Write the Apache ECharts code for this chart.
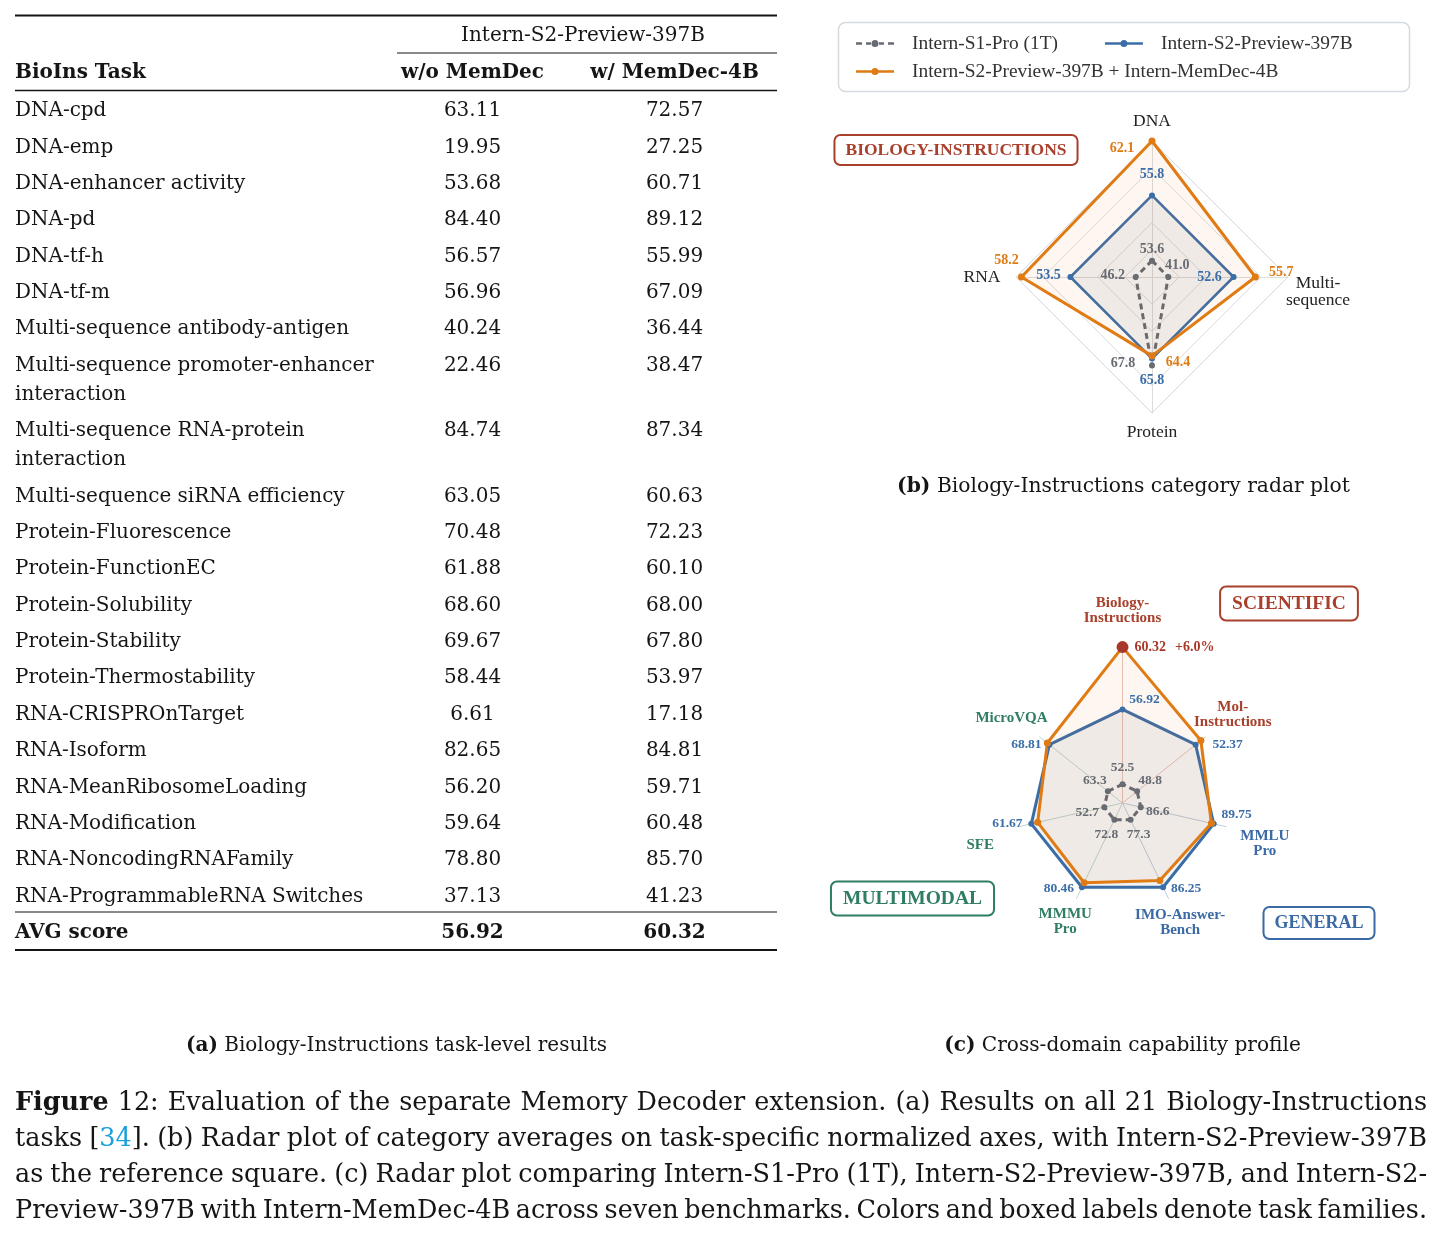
<!DOCTYPE html>
<html>
<head>
<meta charset="utf-8">
<script src="https://cdn.jsdelivr.net/npm/echarts@6.0.0/dist/echarts.min.js"></script>
<style>
html,body{margin:0;padding:0;background:#fff;}
#chart{width:1447px;height:1241px;}
</style>
</head>
<body>
<div id="chart"></div>
<script>
// ================= DATA =================
// (a) table
const tableHeaderModel = 'Intern-S2-Preview-397B';
const tableColumns = ['BioIns Task', 'w/o MemDec', 'w/ MemDec-4B'];
const taskNames = [
  'DNA-cpd', 'DNA-emp', 'DNA-enhancer activity', 'DNA-pd', 'DNA-tf-h', 'DNA-tf-m',
  'Multi-sequence antibody-antigen', 'Multi-sequence promoter-enhancer\ninteraction',
  'Multi-sequence RNA-protein\ninteraction', 'Multi-sequence siRNA efficiency',
  'Protein-Fluorescence', 'Protein-FunctionEC', 'Protein-Solubility', 'Protein-Stability',
  'Protein-Thermostability', 'RNA-CRISPROnTarget', 'RNA-Isoform', 'RNA-MeanRibosomeLoading',
  'RNA-Modification', 'RNA-NoncodingRNAFamily', 'RNA-ProgrammableRNA Switches'
];
const scoresWithoutMemDec = [63.11, 19.95, 53.68, 84.40, 56.57, 56.96, 40.24, 22.46, 84.74, 63.05,
  70.48, 61.88, 68.60, 69.67, 58.44, 6.61, 82.65, 56.20, 59.64, 78.80, 37.13];
const scoresWithMemDec = [72.57, 27.25, 60.71, 89.12, 55.99, 67.09, 36.44, 38.47, 87.34, 60.63,
  72.23, 60.10, 68.00, 67.80, 53.97, 17.18, 84.81, 59.71, 60.48, 85.70, 41.23];
const avgRowLabel = 'AVG score';
const avgWithoutMemDec = 56.92;
const avgWithMemDec = 60.32;

// models
const modelNames = ['Intern-S1-Pro (1T)', 'Intern-S2-Preview-397B', 'Intern-S2-Preview-397B + Intern-MemDec-4B'];

// (b) Biology-Instructions category radar (indicator order counter-clockwise from top)
const bioCategories = ['DNA', 'RNA', 'Protein', 'Multi-\nsequence'];
const bioS1Scores = [53.6, 46.2, 67.8, 41.0];
const bioS2Scores = [55.8, 53.5, 65.8, 52.6];
const bioMemScores = [62.1, 58.2, 64.4, 55.7];
// task-specific normalized radii (Intern-S2 = reference square)
const bioS1Norm = [0.12, 0.12, 0.65, 0.12];
const bioS2Norm = [0.60, 0.60, 0.60, 0.60];
const bioMemNorm = [1.00, 0.96, 0.58, 0.76];
const bioTag = 'BIOLOGY-INSTRUCTIONS';

// (c) cross-domain radar (indicator order counter-clockwise from top)
const crossCategories = ['Biology-\nInstructions', 'MicroVQA', 'SFE', 'MMMU\nPro', 'IMO-Answer-\nBench', 'MMLU\nPro', 'Mol-\nInstructions'];
const crossFamilies = ['sci', 'multi', 'multi', 'multi', 'gen', 'gen', 'sci'];
const crossS1Scores = [52.5, 63.3, 52.7, 72.8, 77.3, 86.6, 48.8];
const crossS2Scores = [56.92, 68.81, 61.67, 80.46, 86.25, 89.75, 52.37];
const crossMemHeadline = 60.32;
const crossMemGain = '+6.0%';
const crossS1Norm = [0.12, 0.12, 0.12, 0.12, 0.12, 0.12, 0.12];
const crossS2Norm = [0.60, 0.60, 0.60, 0.60, 0.60, 0.60, 0.60];
const crossMemNorm = [1.00, 0.617, 0.558, 0.568, 0.552, 0.585, 0.643];
const familyTags = ['SCIENTIFIC', 'MULTIMODAL', 'GENERAL'];

// captions
const captionA = ['(a)', ' Biology-Instructions task-level results'];
const captionB = ['(b)', ' Biology-Instructions category radar plot'];
const captionC = ['(c)', ' Cross-domain capability profile'];
const figureCaptionLines = [
  'Figure 12: Evaluation of the separate Memory Decoder extension. (a) Results on all 21 Biology-Instructions',
  'tasks [34]. (b) Radar plot of category averages on task-specific normalized axes, with Intern-S2-Preview-397B',
  'as the reference square. (c) Radar plot comparing Intern-S1-Pro (1T), Intern-S2-Preview-397B, and Intern-S2-',
  'Preview-397B with Intern-MemDec-4B across seven benchmarks. Colors and boxed labels denote task families.'
];

// ================= STYLE / LAYOUT =================
const INK = '#151515';
const C_ORANGE = '#e07b14';
const C_BLUE = '#3b6ea8';
const C_GRAY = '#676b72';
const C_RED = '#a8402c';
const C_GREEN = '#2f7d64';
const C_GEN = '#3a6aa5';
const famColor = { sci: C_RED, gen: C_GEN, multi: C_GREEN };
const famSpoke = { sci: '#eac3b8', gen: '#bfcde0', multi: '#bfd8cc' };
const SERIF = '"DejaVu Serif", serif';
const TIMES = '"Liberation Serif", "Times New Roman", serif';

// label offsets (dx, dy) relative to vertices, in indicator order
const bioOffS1 = [[0, -11], [-23, -2], [-29, -2], [9, -12]];
const bioOffS2 = [[0, -21], [-22, -2], [0, 22], [-24, 0]];
const bioOffMem = [[-30, 7], [-15, -17], [26, 7], [26, -5]];
const crossOffS1 = [[0, -17], [-13, -11], [-17, 5], [-8, 15], [8, 15], [17, 4], [13, -11]];
const crossOffS2 = [[22, -10], [-23, 0], [-24, 0], [-23, 1], [23, 1], [23, -9], [32, 0]];
const bioNameGap = [20, 34, 19, 30];
const bioNameShift = [0, 0, 0, 30];
const crossNameGap = [86, 36, 40, 26, 27, 40, 35];
const crossNameShift = [0, 8, 20, 0, 0, 16, 0];

// ================= HELPERS =================
const g = [];
const mctx = document.createElement('canvas').getContext('2d');
function fnt(size, bold, fam) { return (bold ? 'bold ' : '') + size.toFixed(2) + 'px ' + (fam || SERIF); }
function tw(text, f) { mctx.font = f; return mctx.measureText(text).width; }
function fitSize(text, bold, target) { return 100 * target / tw(text, fnt(100, bold)); }
function addText(x, y, text, f, extra) {
  g.push({ type: 'text', x: x, y: y, silent: true, z: 10,
    style: Object.assign({ text: text, font: f, fill: INK, align: 'left', verticalAlign: 'middle' }, extra || {}) });
}
function addRule(x1, x2, y, w) {
  g.push({ type: 'line', silent: true, z: 10, shape: { x1: x1, y1: y, x2: x2, y2: y }, style: { stroke: INK, lineWidth: w } });
}
function addRuns(parts, x, y, align, size) {
  let total = 0;
  parts.forEach(p => { total += tw(p.t, fnt(size, p.b)); });
  let cx = align === 'center' ? x - total / 2 : x;
  parts.forEach(p => {
    const f = fnt(size, p.b);
    addText(cx, y, p.t, f, { fill: p.c || INK });
    cx += tw(p.t, f);
  });
}

// ================= (a) TABLE =================
const tfs = fitSize('Multi-sequence promoter-enhancer', false, 359);
const colX = [15, 472.5, 674.5];
const TY = 2; // baseline nudge
addRule(15, 777, 15.5, 2);
addText(583, 34 + TY, tableHeaderModel, fnt(tfs, false), { align: 'center' });
addRule(397, 777, 53, 1);
addText(colX[0], 71 + TY, tableColumns[0], fnt(tfs, true));
addText(colX[1], 71 + TY, tableColumns[1], fnt(tfs, true), { align: 'center' });
addText(colX[2], 71 + TY, tableColumns[2], fnt(tfs, true), { align: 'center' });
addRule(15, 777, 90.5, 1.3);
let rowY = 109;
taskNames.forEach((t, i) => {
  addText(colX[0], rowY + TY - 14.6, t, fnt(tfs, false), { verticalAlign: 'top', lineHeight: 29.2 });
  addText(colX[1], rowY + TY, scoresWithoutMemDec[i].toFixed(2), fnt(tfs, false), { align: 'center' });
  addText(colX[2], rowY + TY, scoresWithMemDec[i].toFixed(2), fnt(tfs, false), { align: 'center' });
  rowY += 36.35 + (t.split('\n').length - 1) * 29.2;
});
addRule(15, 777, 912, 1);
addText(colX[0], 931 + TY, avgRowLabel, fnt(tfs, true));
addText(colX[1], 931 + TY, avgWithoutMemDec.toFixed(2), fnt(tfs, true), { align: 'center' });
addText(colX[2], 931 + TY, avgWithMemDec.toFixed(2), fnt(tfs, true), { align: 'center' });
addRule(15, 777, 950, 2);

// sub captions
function subCaption(parts, cx, cy, target) {
  const runs = [{ t: parts[0], b: true }, { t: parts[1], b: false }];
  let w100 = 0; runs.forEach(p => { w100 += tw(p.t, fnt(100, p.b)); });
  addRuns(runs, cx, cy, 'center', 100 * target / w100);
}
subCaption(captionA, 396.5, 1045.5, 421);
subCaption(captionB, 1123.5, 486.5, 453);
subCaption(captionC, 1122.5, 1045.5, 357);

// figure caption, justified
(function () {
  const L = 15, R = 1427;
  function wordParts(w) {
    if (w === 'Figure') return [{ t: w, b: true }];
    const m = w.match(/^(.*\[)(\d+)(\].*)$/);
    if (m) return [{ t: m[1] }, { t: m[2], c: '#1ba0dc' }, { t: m[3] }];
    return [{ t: w }];
  }
  const lines = figureCaptionLines.map(s => s.split(' ').map(wordParts));
  let fs = 26;
  lines.forEach(words => {
    let w100 = 0;
    words.forEach(ps => ps.forEach(p => { w100 += tw(p.t, fnt(100, p.b)); }));
    const cand = (R - L) / (w100 / 100 + (words.length - 1) * 0.22);
    if (cand < fs) fs = cand;
  });
  lines.forEach((words, li) => {
    const y = 1103 + li * 36;
    let sum = 0;
    const widths = words.map(ps => { let w = 0; ps.forEach(p => { w += tw(p.t, fnt(fs, p.b)); }); sum += w; return w; });
    const gap = (R - L - sum) / (words.length - 1);
    let x = L;
    words.forEach((ps, wi) => {
      addRuns(ps, x, y, 'left', fs);
      x += widths[wi] + gap;
    });
  });
})();

// boxed family tags
function addTag(text, cx, cy, color, size, padV, padH) {
  g.push({ type: 'text', x: cx, y: cy, silent: true, z: 12,
    style: { text: text, font: fnt(size, true, TIMES), fill: color, align: 'center', verticalAlign: 'middle',
      backgroundColor: '#ffffff', borderColor: color, borderWidth: 2, borderRadius: 5, padding: [padV, padH] } });
}
addTag(bioTag, 956, 150, C_RED, 17.5, 5, 10);
addTag(familyTags[0], 1289, 603.5, C_RED, 19.5, 6, 11);
addTag(familyTags[1], 912.5, 898.5, C_GREEN, 19.5, 6, 11);
addTag(familyTags[2], 1319, 923, C_GEN, 18, 6, 10);

// legend frame
g.push({ type: 'rect', silent: true, z: 0, shape: { x: 838.5, y: 22.5, width: 571, height: 69, r: 7 },
  style: { fill: 'none', stroke: '#d5d9e0', lineWidth: 1.5 } });

// ================= LABEL HELPERS =================
function valueLabel(scores, dec, color, offs, size) {
  const rich = {};
  offs.forEach((o, i) => {
    const dx = o[0], dy = o[1];
    rich['d' + i] = { color: color, fontFamily: TIMES, fontWeight: 'bold', fontSize: size,
      padding: [Math.max(0, 2 * dy), Math.max(0, -2 * dx), Math.max(0, -2 * dy), Math.max(0, 2 * dx)] };
  });
  return {
    show: true, position: 'inside', color: color, fontFamily: TIMES, fontWeight: 'bold', fontSize: size,
    formatter: function (p) {
      const i = p.dimensionIndex;
      const v = scores[i];
      if (v == null) return '';
      return '{d' + i + '|' + v.toFixed(dec) + '}';
    },
    rich: rich
  };
}
function spacerRich(shifts) {
  const rich = {};
  shifts.forEach(s => { if (s > 0) rich['s' + s] = { height: s, fontSize: 2, lineHeight: s }; });
  return rich;
}
function nameFormatter(categories, shifts) {
  return function (name) {
    const i = categories.indexOf(name);
    const s = i >= 0 ? shifts[i] : 0;
    return s > 0 ? '{s' + s + '| }\n' + name : name;
  };
}

const dashIcon = 'path://M0 2.7L6 2.7L6 5.3L0 5.3Z M10 2.7L15 2.7L15 5.3L10 5.3Z M15.5 4A3.5 3.5 0 1 1 22.5 4A3.5 3.5 0 1 1 15.5 4Z M23 2.7L28 2.7L28 5.3L23 5.3Z M32 2.7L38 2.7L38 5.3L32 5.3Z';
const lineIcon = 'path://M0 2.7L38 2.7L38 5.3L0 5.3Z M15.5 4A3.5 3.5 0 1 1 22.5 4A3.5 3.5 0 1 1 15.5 4Z';
const legendText = { fontFamily: TIMES, fontSize: 19.4, color: '#333', padding: [0, 0, 0, 13] };

function radarSeries(radarIndex, name, values, color, lw, dash, symSize, area, label) {
  return {
    type: 'radar', radarIndex: radarIndex, name: name, silent: true,
    symbol: 'circle', symbolSize: symSize,
    emphasis: { disabled: true },
    itemStyle: { color: color },
    lineStyle: { color: color, width: lw, type: dash || 'solid' },
    areaStyle: area ? { color: area } : undefined,
    label: label,
    data: [{ name: name, value: values, itemStyle: { color: color }, lineStyle: { color: color, width: lw, type: dash || 'solid' }, areaStyle: area ? { color: area } : { opacity: 0 } }]
  };
}

const memHeadlineLabel = {
  show: true, position: 'inside', align: 'left', offset: [-6, 0],
  formatter: function (p) { return p.dimensionIndex === 0 ? '{dot|}{v|' + crossMemHeadline.toFixed(2) + '}{g|' + crossMemGain + '}' : ''; },
  rich: {
    dot: { width: 12, height: 12, borderRadius: 6, backgroundColor: '#a8392a' },
    v: { color: '#a8392a', fontFamily: TIMES, fontWeight: 'bold', fontSize: 14, padding: [0, 0, 0, 6] },
    g: { color: '#a8392a', fontFamily: TIMES, fontWeight: 'bold', fontSize: 14, padding: [0, 0, 0, 9] }
  }
};

// ================= OPTION =================
const option = {
  animation: false,
  backgroundColor: '#ffffff',
  legend: [
    { data: [{ name: modelNames[0], icon: dashIcon, itemStyle: { color: C_GRAY, borderWidth: 0 } },
             { name: modelNames[1], icon: lineIcon, itemStyle: { color: C_BLUE, borderWidth: 0 } }],
      left: 856, top: 34, padding: 0, itemWidth: 38, itemHeight: 7, itemGap: 47, selectedMode: false,
      itemStyle: { borderWidth: 0 }, textStyle: legendText },
    { data: [{ name: modelNames[2], icon: lineIcon, itemStyle: { color: C_ORANGE, borderWidth: 0 } }],
      left: 856, top: 62, padding: 0, itemWidth: 38, itemHeight: 7, selectedMode: false,
      itemStyle: { borderWidth: 0 }, textStyle: legendText }
  ],
  radar: [
    {
      center: [1152, 277], radius: 136, startAngle: 90, shape: 'polygon', splitNumber: 5,
      indicator: bioCategories.map((n, i) => ({ name: n, min: 0, max: 1, nameGap: bioNameGap[i] })),
      axisName: { color: '#222', fontFamily: TIMES, fontSize: 17.5, lineHeight: 17, align: 'center', verticalAlign: 'middle',
        formatter: nameFormatter(bioCategories, bioNameShift), rich: spacerRich(bioNameShift) },
      axisNameGap: 20,
      splitLine: { lineStyle: { color: ['#dcdcdc', '#dcdcdc', '#dcdcdc', '#dcdcdc', '#dcdcdc', '#d3dbe9'], width: 1 } },
      splitArea: { show: false },
      axisLine: { lineStyle: { color: '#dcdcdc', width: 1 } }
    },
    {
      center: [1122.5, 803], radius: 106, startAngle: 90, shape: 'polygon', splitNumber: 1,
      indicator: crossCategories.map((n, i) => ({
        name: n, min: 0, max: 0.68, color: famColor[crossFamilies[i]], nameGap: crossNameGap[i],
        axisLine: { lineStyle: { color: famSpoke[crossFamilies[i]] } }
      })),
      axisName: { fontFamily: TIMES, fontWeight: 'bold', fontSize: 15, lineHeight: 15, align: 'center', verticalAlign: 'middle',
        formatter: nameFormatter(crossCategories, crossNameShift), rich: spacerRich(crossNameShift) },
      axisNameGap: 30,
      splitLine: { show: false },
      splitArea: { show: false },
      axisLine: { lineStyle: { width: 1 } }
    },
    {
      // full-length spoke for the headline (Biology-Instructions) axis of (c)
      center: [1122.5, 803], radius: 156, startAngle: 90, shape: 'polygon', splitNumber: 1, z: 1,
      indicator: crossCategories.map((n, i) => ({
        name: n, min: 0, max: 1,
        axisLine: { lineStyle: { color: i === 0 ? famSpoke[crossFamilies[i]] : 'rgba(0,0,0,0)' } }
      })),
      axisName: { show: false },
      splitLine: { show: false },
      splitArea: { show: false },
      axisLine: { lineStyle: { width: 1 } }
    }
  ],
  series: [
    radarSeries(0, modelNames[0], bioS1Norm, C_GRAY, 3, [6, 4], 6, null, valueLabel(bioS1Scores, 1, C_GRAY, bioOffS1, 14)),
    radarSeries(0, modelNames[1], bioS2Norm, C_BLUE, 2.5, null, 6, 'rgba(60,72,95,0.10)', valueLabel(bioS2Scores, 1, C_BLUE, bioOffS2, 14)),
    radarSeries(0, modelNames[2], bioMemNorm, C_ORANGE, 3, null, 7, 'rgba(232,130,35,0.09)', valueLabel(bioMemScores, 1, C_ORANGE, bioOffMem, 14)),
    radarSeries(1, modelNames[0], crossS1Norm, C_GRAY, 3, [6, 4], 6, null, valueLabel(crossS1Scores, 1, C_GRAY, crossOffS1, 13.5)),
    radarSeries(1, modelNames[1], crossS2Norm, C_BLUE, 3, null, 6, 'rgba(60,72,95,0.10)', valueLabel(crossS2Scores, 2, C_BLUE, crossOffS2, 13.5)),
    radarSeries(1, modelNames[2], crossMemNorm, C_ORANGE, 3, null, 7, 'rgba(232,130,35,0.09)', memHeadlineLabel)
  ],
  graphic: g
};

const chart = echarts.init(document.getElementById('chart'), null, { renderer: 'canvas' });
chart.setOption(option);
</script>
</body>
</html>
